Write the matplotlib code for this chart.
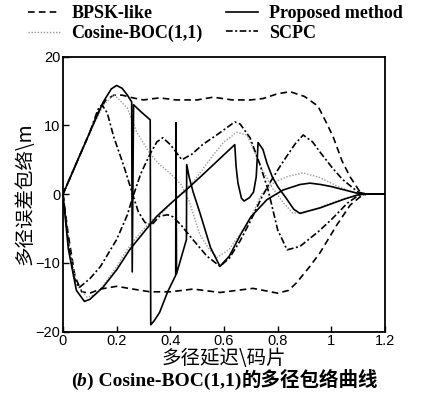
import matplotlib
matplotlib.use("Agg")
import matplotlib.pyplot as plt
from matplotlib.ticker import FormatStrFormatter

# BPSK-like envelope (upper / lower)
bpsk_up_x = [0, 0.05, 0.10, 0.13, 0.16, 0.19, 0.22, 0.26, 0.30, 0.36, 0.42, 0.50, 0.56, 0.63,
             0.70, 0.745, 0.80, 0.846, 0.90, 0.95, 0.98, 1.007, 1.04, 1.07, 1.107, 1.13, 1.20]
bpsk_up_y = [0, 4.5, 9.0, 11.8, 13.7, 14.4, 14.4, 14.0, 13.7, 14.0, 13.7, 13.7, 14.1, 13.7,
             13.7, 13.9, 14.6, 14.9, 14.2, 12.8, 10.5, 8.3, 4.8, 2.5, 0.3, 0, 0]
bpsk_lo_x = [0, 0.02, 0.045, 0.07, 0.10, 0.14, 0.20, 0.26, 0.324, 0.40, 0.485, 0.585, 0.708,
             0.80, 0.84, 0.87, 0.92, 0.958, 1.00, 1.02, 1.07, 1.107, 1.13, 1.20]
bpsk_lo_y = [0, -6.0, -12.0, -14.2, -14.4, -13.8, -13.4, -13.8, -14.2, -14.2, -13.8, -14.3, -13.7,
             -14.4, -14.0, -12.9, -10.5, -8.5, -5.8, -4.5, -1.6, -0.4, 0, 0]

# Cosine-BOC(1,1) envelope
boc_a_x = [0, 0.05, 0.10, 0.15, 0.19, 0.24, 0.275, 0.324, 0.36, 0.40, 0.44, 0.47, 0.51, 0.545,
           0.575, 0.62, 0.66, 0.697, 0.74, 0.79, 0.84, 0.895, 0.958, 1.02, 1.07, 1.10, 1.13, 1.20]
boc_a_y = [0, 4.5, 9.0, 12.9, 14.5, 12.5, 9.0, 5.9, 4.3, 3.0, 1.4, -1.0, -5.9, -8.0,
           -9.2, -8.0, -5.8, -3.7, 0, 1.8, 2.6, 3.1, 2.4, 1.2, 0.4, 0.1, 0, 0]
boc_b_x = [0, 0.02, 0.05, 0.09, 0.12, 0.15, 0.20, 0.24, 0.28, 0.33, 0.37, 0.40, 0.43, 0.46,
           0.49, 0.52, 0.56, 0.60, 0.648, 0.685, 0.71, 0.734, 0.76, 0.78, 0.82, 0.857, 0.90,
           0.95, 1.00, 1.05, 1.10, 1.13, 1.20]
boc_b_y = [0, -7.0, -13.2, -15.0, -14.6, -13.3, -10.5, -8.0, -6.0, -3.8, -2.7, -1.5, -0.3, 0.8,
           2.0, 3.6, 5.7, 7.6, 9.0, 8.6, 6.5, 4.2, 2.3, 0.9, -1.2, -2.8, -2.6,
           -2.0, -1.3, -0.6, -0.1, 0, 0]

# Proposed method envelope
prop_a_x = [0, 0.05, 0.10, 0.15, 0.18, 0.20, 0.22, 0.24, 0.256, 0.258, 0.263, 0.29, 0.325,
            0.327, 0.34, 0.36, 0.39, 0.42, 0.421, 0.423, 0.44, 0.46, 0.461, 0.47, 0.485, 0.51,
            0.55, 0.585, 0.62, 0.66, 0.70, 0.76, 0.82, 0.883, 0.92, 0.96, 1.00, 1.05, 1.10,
            1.12, 1.20]
prop_a_y = [0, 4.5, 9.0, 13.4, 15.3, 15.8, 15.4, 14.4, 13.4, -11.3, 13.0, 12.0, 10.8,
            -19.0, -18.4, -17.2, -14.2, -11.8, 10.4, -11.6, -9.3, -6.6, 4.3, 2.5, 0.3, -2.7,
            -7.8, -10.5, -9.0, -6.0, -3.3, -0.8, 0.6, 1.4, 1.6, 1.4, 1.1, 0.6, 0.1,
            0, 0]
prop_b_x = [0, 0.02, 0.05, 0.08, 0.10, 0.15, 0.20, 0.25, 0.30, 0.35, 0.40, 0.47, 0.52, 0.58,
            0.64, 0.645, 0.652, 0.665, 0.675, 0.695, 0.71, 0.72, 0.727, 0.745, 0.76, 0.78,
            0.80, 0.83, 0.86, 0.883, 0.92, 0.958, 1.00, 1.05, 1.10, 1.12, 1.20]
prop_b_y = [0, -8.0, -14.0, -15.6, -15.3, -13.5, -11.0, -8.0, -5.6, -3.2, -1.4, 1.0, 2.8, 5.0,
            7.2, 4.0, 1.6, -0.6, -1.0, -0.5, 0.3, 2.5, 7.5, 6.5, 4.5, 2.5,
            1.1, -0.5, -2.2, -2.8, -2.4, -2.0, -1.4, -0.7, -0.1, 0, 0]

# SCPC envelope
scpc_a_x = [0, 0.05, 0.10, 0.13, 0.145, 0.165, 0.19, 0.225, 0.257, 0.28, 0.305, 0.33, 0.36,
            0.39, 0.41, 0.44, 0.473, 0.536, 0.585, 0.62, 0.66, 0.70, 0.74, 0.77, 0.80, 0.83,
            0.865, 0.895, 0.93, 0.96, 1.00, 1.04, 1.08, 1.10, 1.13, 1.20]
scpc_a_y = [0, 4.5, 9.0, 12.3, 13.0, 11.8, 8.2, 4.3, 0.3, -2.5, -4.1, -4.5, -3.2,
            -3.0, -3.3, -4.5, -6.1, -9.0, -10.5, -9.3, -6.8, -3.8, -0.5, 1.6, 3.5, 5.3,
            7.3, 8.6, 7.6, 6.0, 4.0, 2.2, 0.9, 0.3, 0, 0]
scpc_b_x = [0, 0.02, 0.04, 0.06, 0.10, 0.14, 0.20, 0.24, 0.257, 0.29, 0.324, 0.35, 0.372,
            0.40, 0.443, 0.48, 0.52, 0.58, 0.64, 0.66, 0.697, 0.734, 0.765, 0.80, 0.835,
            0.883, 0.95, 1.00, 1.06, 1.10, 1.13, 1.20]
scpc_b_y = [0, -7.0, -12.0, -13.6, -12.3, -10.5, -6.6, -3.0, -0.8, 3.0, 5.8, 7.6, 8.2,
            7.2, 5.0, 5.8, 7.2, 8.8, 10.5, 10.2, 8.2, 4.3, 0.5, -5.2, -8.1,
            -7.6, -5.5, -3.7, -1.3, -0.2, 0, 0]

x_ticks = [0, 0.2, 0.4, 0.6, 0.8, 1.0, 1.2]
y_ticks = [-20, -10, 0, 10, 20]

plt.rcParams["font.family"] = ["Liberation Sans", "Noto Sans CJK SC"]

fig = plt.figure(figsize=(4.21, 3.93), dpi=100)
ax = fig.add_axes([0.1496, 0.156, 0.765, 0.7])

lw = 1.2
ax.plot(bpsk_up_x, bpsk_up_y, color="black", lw=lw, dashes=(4, 2.5), label="BPSK-like")
ax.plot(bpsk_lo_x, bpsk_lo_y, color="black", lw=lw, dashes=(4, 2.5))
ax.plot(boc_a_x, boc_a_y, color="#999999", lw=1.0, dashes=(1, 1.2), label="Cosine-BOC(1,1)")
ax.plot(boc_b_x, boc_b_y, color="#999999", lw=1.0, dashes=(1, 1.2))
ax.plot(prop_a_x, prop_a_y, color="black", lw=lw, label="Proposed method")
ax.plot(prop_b_x, prop_b_y, color="black", lw=lw)
ax.plot(scpc_a_x, scpc_a_y, color="black", lw=lw, dashes=(4, 1.5, 1.2, 1.5), label="SCPC")
ax.plot(scpc_b_x, scpc_b_y, color="black", lw=lw, dashes=(4, 1.5, 1.2, 1.5))

ax.set_xlim(0, 1.2)
ax.set_ylim(-20, 20)
ax.set_xticks(x_ticks)
ax.set_yticks(y_ticks)
ax.xaxis.set_major_formatter(FormatStrFormatter("%g"))
ax.tick_params(direction="in", length=4, width=1, labelsize=10.5, pad=2)
for s in ax.spines.values():
    s.set_linewidth(1.3)

ax.set_xlabel("多径延迟\\码片", family=["Noto Sans CJK SC"], fontsize=14, labelpad=0)
ax.set_ylabel("多径误差包络\\m", family=["Noto Sans CJK SC"], fontsize=14, labelpad=0)

fig.legend(loc="upper left", bbox_to_anchor=(0.062, 0.992), ncol=2, frameon=False,
           borderpad=0.1, borderaxespad=0, handlelength=1.8, handletextpad=0.6,
           columnspacing=1.3, labelspacing=0.15,
           prop={"family": "Liberation Serif", "weight": "bold", "size": 13})

# caption: "(" + italic "b" + ") Cosine-BOC(1,1)" + Chinese tail, chained left to right
cap_font = dict(family=["Liberation Serif", "Noto Sans CJK SC"], weight="bold", fontsize=14)
t0 = fig.text(0.168, 0.008, "(", ha="left", va="bottom", **cap_font)
t1 = ax.annotate("b", xy=(1, 0), xycoords=t0, ha="left", va="bottom",
                 style="italic", **cap_font)
t2 = ax.annotate(") Cosine-BOC(1,1)", xy=(1, 0), xycoords=t1, ha="left", va="bottom",
                 **cap_font)
ax.annotate("的多径包络曲线", xy=(1, 0), xycoords=t2, ha="left", va="bottom",
            annotation_clip=False, **cap_font)

fig.savefig("out.png", dpi=100)
